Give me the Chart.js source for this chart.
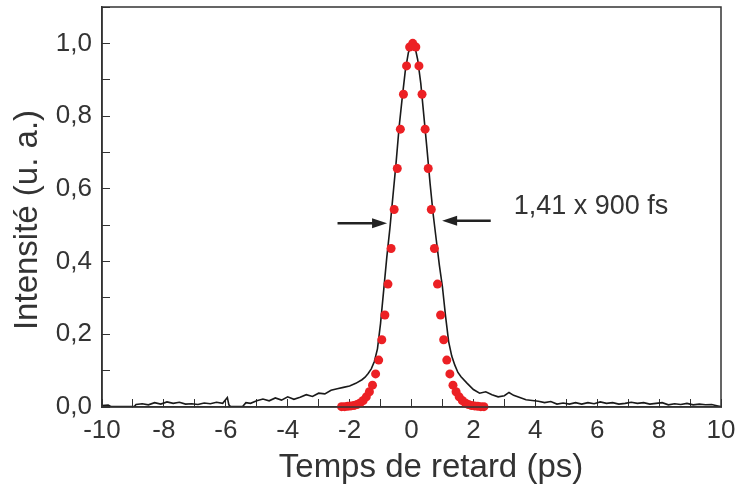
<!DOCTYPE html>
<html>
<head>
<meta charset="utf-8">
<script src="https://cdn.jsdelivr.net/npm/chart.js@4"></script>
<style>
  html, body { margin: 0; padding: 0; background: #fff; }
  #wrap { width: 739px; height: 486px; }
</style>
</head>
<body>
<div id="wrap"><canvas id="chart" width="739" height="486"></canvas></div>
<script>
// measured autocorrelation trace (ps, u. a.)
const traceX = [-10.0, -9.8, -9.7, -9.4, -9.1, -8.95, -8.9, -8.7, -8.5, -8.3, -8.1, -7.9, -7.7, -7.5, -7.3, -7.1,
    -6.9, -6.7, -6.5, -6.3, -6.1, -5.95, -5.9, -5.85, -5.6, -5.45, -5.35, -5.2, -5.0, -4.8, -4.6, -4.4, -4.2,
    -4.0, -3.8, -3.6, -3.4, -3.2, -3.0, -2.8, -2.6, -2.4, -2.2, -2.0, -1.8, -1.6, -1.5, -1.4, -1.3, -1.2, -1.1,
    -1.0, -0.9, -0.8, -0.7, -0.6, -0.5, -0.4, -0.3, -0.2, -0.1, 0.0, 0.05, 0.1, 0.2, 0.3, 0.4, 0.5, 0.6, 0.7,
    0.8, 0.9, 1.0, 1.1, 1.2, 1.3, 1.4, 1.5, 1.6, 1.8, 2.0, 2.2, 2.4, 2.6, 2.8, 3.0, 3.15, 3.3, 3.5, 3.7, 3.9,
    4.1, 4.3, 4.5, 4.7, 4.9, 5.1, 5.3, 5.5, 5.7, 5.9, 6.1, 6.3, 6.5, 6.7, 6.9, 7.1, 7.3, 7.5, 7.7, 7.9, 8.1,
    8.3, 8.5, 8.7, 8.9, 9.1, 9.3, 9.5, 9.7, 9.9, 10.0];
const traceY = [0.004, 0.005, 0.001, 0.001, 0.001, 0.002, 0.007, 0.009, 0.006, 0.012, 0.008, 0.014, 0.010, 0.013, 0.008, 0.009,
    0.007, 0.011, 0.009, 0.013, 0.010, 0.026, 0.006, 0.001, 0.001, 0.002, 0.012, 0.010, 0.017, 0.022, 0.017, 0.025, 0.019,
    0.028, 0.021, 0.027, 0.034, 0.029, 0.038, 0.036, 0.046, 0.050, 0.054, 0.058, 0.065, 0.075, 0.082, 0.092, 0.105, 0.125, 0.16,
    0.23, 0.32, 0.41, 0.49, 0.58, 0.67, 0.77, 0.85, 0.925, 0.975, 0.995, 1.0, 0.995, 0.955, 0.89, 0.80, 0.71, 0.615, 0.53,
    0.46, 0.39, 0.33, 0.25, 0.18, 0.14, 0.115, 0.095, 0.083, 0.065, 0.048, 0.038, 0.042, 0.034, 0.028, 0.031, 0.040, 0.032, 0.026, 0.020, 0.018,
    0.016, 0.012, 0.015, 0.008, 0.011, 0.008, 0.012, 0.008, 0.012, 0.009, 0.014, 0.010, 0.012, 0.008, 0.010, 0.013, 0.010, 0.012, 0.008, 0.010, 0.012,
    0.006, 0.009, 0.007, 0.010, 0.006, 0.008, 0.006, 0.007, 0.003, 0.001];

// fitted points (red dots)
const fitX = [-2.26, -2.16, -2.06, -1.96, -1.86, -1.76, -1.66, -1.56, -1.46, -1.36, -1.26, -1.16, -1.06, -0.96, -0.86, -0.76,
    -0.66, -0.56, -0.46, -0.36, -0.26, -0.16, -0.06, 0.04, 0.14, 0.24, 0.34, 0.44, 0.54, 0.64, 0.74, 0.84, 0.94, 1.04,
    1.14, 1.24, 1.34, 1.44, 1.54, 1.64, 1.74, 1.84, 1.94, 2.04, 2.14, 2.24, 2.34];
const fitY = [0.001, 0.001, 0.002, 0.003, 0.004, 0.007, 0.011, 0.018, 0.028, 0.042, 0.060, 0.091, 0.129, 0.185, 0.253, 0.338,
    0.436, 0.543, 0.656, 0.764, 0.86, 0.938, 0.99, 1.0, 0.99, 0.938, 0.86, 0.764, 0.656, 0.543, 0.436, 0.338, 0.253, 0.185,
    0.129, 0.091, 0.060, 0.042, 0.028, 0.018, 0.011, 0.007, 0.004, 0.003, 0.002, 0.001, 0.001];

const xTitle = "Temps de retard (ps)";
const yTitle = "Intensité (u. a.)";
const widthLabel = "1,41 x 900 fs";

const textColor = "#333";
const fontFamily = "'Liberation Sans', Arial, sans-serif";

// frame, titles, FWHM arrows and label
const decorations = {
    id: "decorations",
    afterDraw(chart) {
        const { ctx, chartArea: a, scales: { x, y } } = chart;
        ctx.save();
        ctx.strokeStyle = "#333";
        ctx.lineWidth = 1.5;
        ctx.strokeRect(a.left, a.top, a.right - a.left, a.bottom - a.top);

        ctx.fillStyle = textColor;
        ctx.font = "33px " + fontFamily;
        ctx.textAlign = "center";
        ctx.textBaseline = "alphabetic";
        ctx.fillText(xTitle, a.left + 329, a.bottom + 70);

        ctx.save();
        ctx.translate(37, a.top + 213);
        ctx.rotate(-Math.PI / 2);
        ctx.fillText(yTitle, 0, 0);
        ctx.restore();

        ctx.font = "27px " + fontFamily;
        ctx.textAlign = "left";
        ctx.fillText(widthLabel, x.getPixelForValue(3.3), y.getPixelForValue(0.53));

        const arrow = (fromX, toX, atY) => {
            const x1 = x.getPixelForValue(fromX), x2 = x.getPixelForValue(toX), yy = y.getPixelForValue(atY);
            const dir = Math.sign(x2 - x1);
            ctx.strokeStyle = "#222";
            ctx.fillStyle = "#222";
            ctx.lineWidth = 2.5;
            ctx.beginPath();
            ctx.moveTo(x1, yy);
            ctx.lineTo(x2 - dir * 10, yy);
            ctx.stroke();
            ctx.beginPath();
            ctx.moveTo(x2, yy);
            ctx.lineTo(x2 - dir * 15, yy - 5);
            ctx.lineTo(x2 - dir * 15, yy + 5);
            ctx.closePath();
            ctx.fill();
        };
        arrow(-2.39, -0.79, 0.505);
        arrow(2.56, 0.99, 0.512);
        ctx.restore();
    }
};

new Chart(document.getElementById("chart"), {
    type: "line",
    data: {
        datasets: [
            {
                label: "fit",
                data: fitX.map((v, i) => ({ x: v, y: fitY[i] })),
                showLine: false,
                pointRadius: 4.5,
                pointBackgroundColor: "rgb(236, 32, 36)",
                pointBorderWidth: 0,
                clip: 6,
                order: 0
            },
            {
                label: "trace",
                data: traceX.map((v, i) => ({ x: v, y: traceY[i] })),
                borderColor: "#1a1a1a",
                borderWidth: 1.6,
                pointRadius: 0,
                tension: 0,
                order: 1
            }
        ]
    },
    options: {
        responsive: false,
        animation: false,
        layout: { padding: { top: 7, right: 18, left: 0, bottom: 0 } },
        plugins: { legend: { display: false }, tooltip: { enabled: false } },
        scales: {
            x: {
                type: "linear",
                min: -10,
                max: 10,
                afterFit: s => { s.height = 79; s.paddingLeft = 0; s.paddingRight = 0; },
                border: { color: "#333", width: 1.5 },
                grid: { drawOnChartArea: false, tickLength: -8, tickColor: "#333", tickWidth: 1 },
                ticks: {
                    stepSize: 1,
                    autoSkip: false,
                    maxRotation: 0,
                    padding: 16,
                    color: textColor,
                    font: { family: fontFamily, size: 26 },
                    callback: v => (Math.round(v) % 2 === 0 ? String(Math.round(v)) : "")
                }
            },
            y: {
                min: 0,
                max: 1.1,
                afterFit: s => { s.width = 102; s.paddingTop = 0; s.paddingBottom = 0; },
                border: { color: "#333", width: 1.5 },
                grid: { drawOnChartArea: false, tickLength: -8, tickColor: "#333", tickWidth: 1 },
                ticks: {
                    stepSize: 0.1,
                    autoSkip: false,
                    padding: 18,
                    color: textColor,
                    font: { family: fontFamily, size: 26 },
                    callback: v => {
                        const k = Math.round(v * 10);
                        return k % 2 === 0 ? (k / 10).toFixed(1).replace(".", ",") : "";
                    }
                }
            }
        }
    },
    plugins: [decorations]
});
</script>
</body>
</html>
